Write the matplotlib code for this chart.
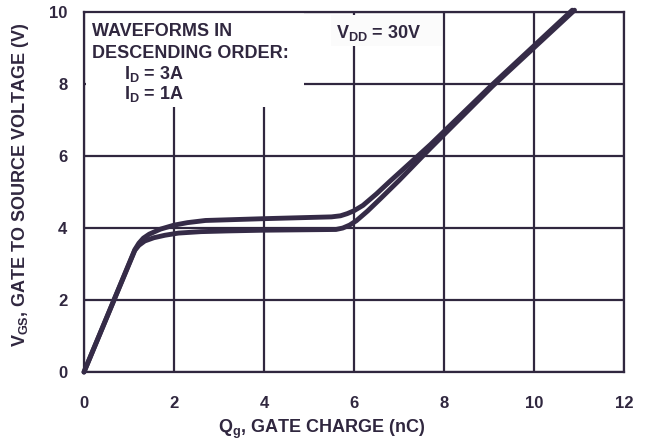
import matplotlib
matplotlib.use("Agg")
import matplotlib.pyplot as plt

plt.rcParams['font.family'] = ['Liberation Sans', 'DejaVu Sans']
plt.rcParams['font.weight'] = 'bold'
plt.rcParams['mathtext.fontset'] = 'custom'
plt.rcParams['mathtext.rm'] = 'Liberation Sans:bold'
plt.rcParams['mathtext.bf'] = 'Liberation Sans:bold'
plt.rcParams['mathtext.it'] = 'Liberation Sans:bold'

ink = '#30273f'
trace = '#352b47'

# gate charge curves (nC, V)
qg_3a = [0, 1.13, 1.22, 1.32, 1.45, 1.7, 2.0, 2.3, 2.7, 4.0, 5.5, 5.7,
         5.85, 6.0, 6.2, 6.5, 6.8, 7.7, 9.07, 10.85]
vgs_3a = [0, 3.40, 3.58, 3.72, 3.83, 3.97, 4.08, 4.15, 4.21, 4.26, 4.31, 4.34,
          4.40, 4.48, 4.63, 4.95, 5.30, 6.32, 7.98, 10.05]
qg_1a = [0, 1.13, 1.22, 1.35, 1.55, 1.8, 2.1, 2.6, 3.2, 4.0, 5.6, 5.75,
         5.9, 6.05, 6.3, 6.6, 7.0, 7.7, 9.07, 10.9]
vgs_1a = [0, 3.38, 3.52, 3.64, 3.73, 3.80, 3.86, 3.90, 3.92, 3.94, 3.96, 4.00,
          4.08, 4.20, 4.47, 4.83, 5.32, 6.22, 7.93, 10.05]

xticks = [0, 2, 4, 6, 8, 10, 12]
yticks = [0, 2, 4, 6, 8, 10]

fig = plt.figure(figsize=(6.5, 4.44), dpi=100)
ax = fig.add_axes([0.1292, 0.162, 0.8308, 0.811])

ax.set_xlim(0, 12)
ax.set_ylim(0, 10)
ax.set_xticks(xticks)
ax.set_yticks(yticks)
ax.grid(True, color=ink, linewidth=1.6)
ax.set_axisbelow(True)
for s in ax.spines.values():
    s.set_color(ink)
    s.set_linewidth(1.6)
ax.tick_params(length=0, labelcolor=ink, labelsize=12)
ax.tick_params(axis='x', pad=17)
ax.tick_params(axis='y', pad=12)
for lab in ax.get_xticklabels() + ax.get_yticklabels():
    lab.set_fontweight('bold')

# white patches behind annotations
ax.add_patch(plt.Rectangle((0.04, 7.36), 4.86, 2.6, facecolor='white',
                           edgecolor='none', zorder=1.5))
ax.add_patch(plt.Rectangle((5.5, 9.05), 2.45, 0.88, facecolor='#fbfbfb',
                           edgecolor='none', zorder=1.5))

ax.plot(qg_3a, vgs_3a, color=trace, linewidth=3.5, solid_capstyle='round',
        solid_joinstyle='round', clip_on=False, zorder=3)
ax.plot(qg_1a, vgs_1a, color=trace, linewidth=3.5, solid_capstyle='round',
        solid_joinstyle='round', clip_on=False, zorder=3)

tk = dict(color=ink, fontsize=13, fontweight='bold', zorder=4)
ax.text(0.18, 9.33, 'WAVEFORMS IN', **tk)
ax.text(0.18, 8.73, 'DESCENDING ORDER:', **tk)
ax.text(0.9, 8.13, r'$\mathbf{I_D}$ = 3A', **tk)
ax.text(0.9, 7.58, r'$\mathbf{I_D}$ = 1A', **tk)
ax.text(5.6, 9.28, r'$\mathbf{V_{DD}}$ = 30V', **tk)

fig.text(0.495, 0.025, r'$\mathbf{Q_g}$, GATE CHARGE (nC)', ha='center',
         va='baseline', color=ink, fontsize=13, fontweight='bold')
fig.text(0.032, 0.585, r'$\mathbf{V_{GS}}$, GATE TO SOURCE VOLTAGE (V)',
         rotation=90, ha='center', va='center', color=ink, fontsize=13,
         fontweight='bold')

fig.savefig('out.png', dpi=100)
